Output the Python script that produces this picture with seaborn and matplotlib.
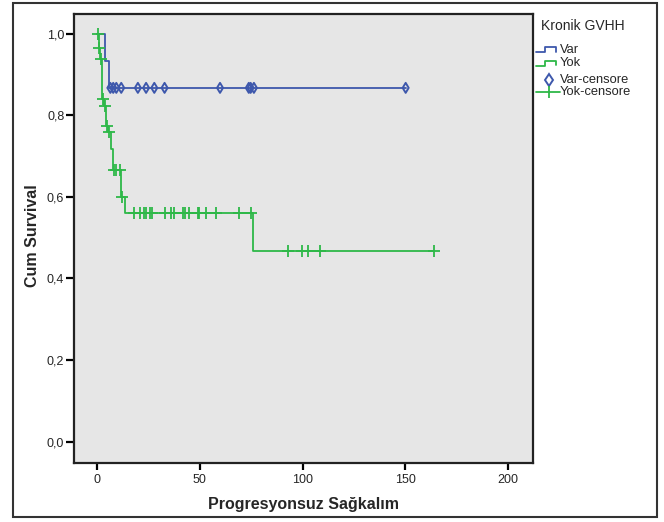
import numpy as np
import pandas as pd
import matplotlib
matplotlib.use("Agg")
import matplotlib.pyplot as plt
import seaborn as sns
from matplotlib.lines import Line2D
from matplotlib.patches import Rectangle

# ---- data ----
var_times = [0.0, 4.0, 5.9, 150.2]
var_surv = [1.0, 0.933, 0.867, 0.867]
var_censored = [6.4, 7.8, 9.3, 11.7, 19.8, 23.8, 27.8, 32.8, 59.8, 73.8, 74.7, 76.3, 150.2]

yok_times = [0.0, 0.7, 1.5, 2.2, 3.3, 4.2, 5.2, 6.7, 7.7, 11.7, 13.6, 75.9, 163.9]
yok_surv = [1.0, 0.965, 0.938, 0.840, 0.822, 0.773, 0.758, 0.718, 0.666, 0.600, 0.560, 0.467, 0.467]
yok_censored = [0.2, 1.1, 1.8, 2.7, 3.8, 4.6, 5.6, 8.0, 9.3, 10.9, 12.2,
                17.7, 20.9, 23.0, 23.8, 25.8, 26.7, 33.0, 35.9, 37.5, 41.9, 42.9,
                44.8, 49.2, 49.6, 52.9, 57.7, 69.0, 75.0,
                92.9, 99.7, 102.6, 108.6, 163.9]

y_ticks = [0.0, 0.2, 0.4, 0.6, 0.8, 1.0]
y_tick_labels = ["0,0", "0,2", "0,4", "0,6", "0,8", "1,0"]
x_ticks = [0, 50, 100, 150, 200]
x_tick_labels = ["0", "50", "100", "150", "200"]
legend_title = "Kronik GVHH"
legend_labels = ["Var", "Yok", "Var-censore", "Yok-censore"]

BLUE = "#3E58AC"
GREEN = "#2EB848"


def step_value(times, surv, t):
    idx = np.searchsorted(np.asarray(times), np.asarray(t), side="right") - 1
    return np.asarray(surv)[idx]


sns.set_style("white")
plt.rcParams["font.family"] = ["Liberation Sans", "DejaVu Sans"]

W, H = 664, 522
fig = plt.figure(figsize=(W / 100, H / 100), dpi=100)


def fx(x):
    return x / W


def fy(y):
    return 1 - y / H


AX_L, AX_R, AX_T, AX_B = 74, 533, 14, 463.3
ax = fig.add_axes([fx(AX_L), fy(AX_B), fx(AX_R) - fx(AX_L), fy(AX_T) - fy(AX_B)])
ax.set_facecolor("#e6e6e6")

var_line = pd.DataFrame({"t": var_times, "s": var_surv})
yok_line = pd.DataFrame({"t": yok_times, "s": yok_surv})
sns.lineplot(data=yok_line, x="t", y="s", drawstyle="steps-post", color=GREEN,
             lw=1.3, estimator=None, sort=False, ax=ax)
sns.lineplot(data=var_line, x="t", y="s", drawstyle="steps-post", color=BLUE,
             lw=1.3, estimator=None, sort=False, ax=ax)

var_c = pd.DataFrame({"t": var_censored, "s": step_value(var_times, var_surv, var_censored)})
yok_c = pd.DataFrame({"t": yok_censored, "s": step_value(yok_times, yok_surv, yok_censored)})
sns.scatterplot(data=yok_c, x="t", y="s", marker="+", color=GREEN, s=70,
                linewidth=1.3, ax=ax, zorder=4)
sns.scatterplot(data=var_c, x="t", y="s", marker="d", facecolor="none",
                edgecolor=BLUE, s=26, linewidth=1.4, ax=ax, zorder=5)

ax.set_xlim(-11.3, 212.2)
ax.set_ylim(-0.053, 1.048)
ax.set_xticks(x_ticks)
ax.set_xticklabels(x_tick_labels, fontsize=9)
ax.set_yticks(y_ticks)
ax.set_yticklabels(y_tick_labels, fontsize=9)
ax.tick_params(axis="both", direction="out", color="black", width=1.6,
               bottom=True, left=True, top=False, right=False)
ax.tick_params(axis="y", length=6, pad=1)
ax.tick_params(axis="x", length=5, pad=3)
for sp in ax.spines.values():
    sp.set_visible(True)
    sp.set_color("#222222")
    sp.set_linewidth(1.6)

ax.set_xlabel("Progresyonsuz Sağkalım", fontsize=11.5, fontweight="bold")
ax.set_ylabel("Cum Survival", fontsize=11.5, fontweight="bold")
ax.xaxis.label.set_va("center")
ax.yaxis.label.set_va("center")
ax.xaxis.set_label_coords(0.5, (AX_B - 504) / (AX_B - AX_T))
ax.yaxis.set_label_coords((32.3 - AX_L) / (AX_R - AX_L), (AX_B - 236) / (AX_B - AX_T))

# outer frame
fig.add_artist(Rectangle((fx(12.7), fy(517)), fx(657) - fx(12.7), fy(2.5) - fy(517),
                         fill=False, lw=1.5, edgecolor="#333333", transform=fig.transFigure))

# legend (drawn manually to mimic SPSS)
fig.text(fx(541), fy(26.5), legend_title, fontsize=10, va="center", ha="left")
rows = [49.8, 63.2, 79.5, 92.2]
for yy, col in zip(rows[:2], [BLUE, GREEN]):
    xs = [fx(536), fx(545), fx(545), fx(556), fx(556)]
    ys = [fy(yy + 2.5), fy(yy + 2.5), fy(yy - 2.5), fy(yy - 2.5), fy(yy + 2)]
    fig.add_artist(Line2D(xs, ys, color=col, lw=1.3, transform=fig.transFigure))
fig.add_artist(Line2D([fx(549)], [fy(rows[2])], marker="d", mfc="none", mec=BLUE,
                      ms=6, mew=1.4, transform=fig.transFigure))
fig.add_artist(Line2D([fx(536), fx(560)], [fy(rows[3]), fy(rows[3])], color=GREEN,
                      lw=1.3, transform=fig.transFigure))
fig.add_artist(Line2D([fx(549)], [fy(rows[3])], marker="|", color=GREEN,
                      ms=9, mew=1.3, transform=fig.transFigure))
for yy, lab in zip(rows, legend_labels):
    fig.text(fx(560), fy(yy), lab, fontsize=9.3, va="center", ha="left")

fig.savefig("out.png", dpi=100)
